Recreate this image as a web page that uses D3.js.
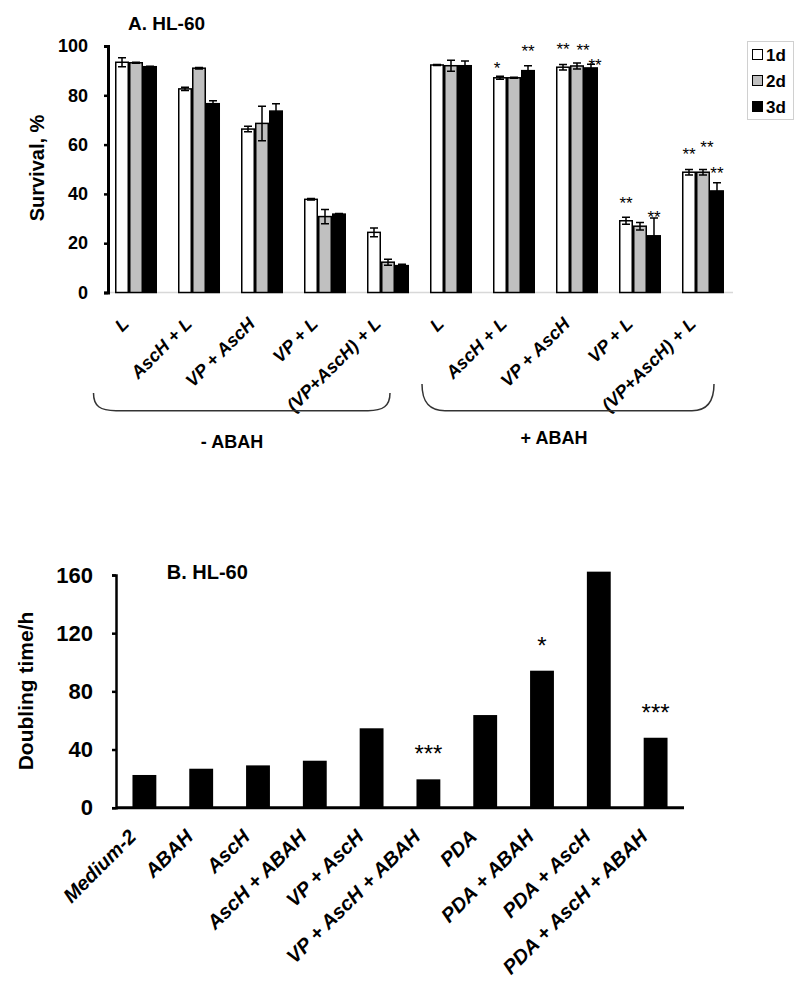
<!DOCTYPE html>
<html><head><meta charset="utf-8">
<script src="https://cdn.jsdelivr.net/npm/d3@7"></script>
<style>
body{margin:0;background:#fff}
svg{display:block}
text{font-family:Arial,"Liberation Sans",sans-serif}
</style>
</head><body>
<svg id="c" width="800" height="995"></svg>
<script>
// ---------- Panel A data ----------
const groupsA = ["L","AscH + L","VP + AscH","VP + L","(VP+AscH) + L","L","AscH + L","VP + AscH","VP + L","(VP+AscH) + L"];
const seriesA = ["1d","2d","3d"];
const colorsA = ["#ffffff","#c0c0c0","#000000"];
const val1d = [93.4,82.6,66.3,37.8,24.4,92.3,87.1,91.4,29.1,48.8];
const err1d = [1.8,0.7,1.1,0.3,1.8,0.2,0.6,1.1,1.4,1.1];
const val2d = [93.2,91.0,68.6,30.8,12.3,92.0,87.1,91.9,26.9,48.8];
const err2d = [0.2,0.3,7.0,2.9,1.2,2.2,0.2,1.2,1.5,1.1];
const val3d = [91.6,76.6,73.6,31.8,10.9,92.0,90.0,91.1,23.0,41.2];
const err3d = [0.2,1.2,3.0,0.2,0.6,1.9,2.0,1.5,7.2,3.3];
const ticksA = [0,20,40,60,80,100];
const bracketLabelsA = ["- ABAH","+ ABAH"];
// significance marks: [group index, series index, text, level (survival %)]
const starsA = [
  [6,0,"*",92.3],[6,2,"**",99.3],
  [7,0,"**",100.4],[7,1,"**",99.7],[7,2,"**",93.6],
  [8,0,"**",37.9],[8,2,"**",32.1],
  [9,0,"**",57.8],[9,1,"**",60.5],[9,2,"**",49.7]
];
const starNudgeA = [-3,0,0,6,4,0,0,0,4,0];

// ---------- Panel B data ----------
const categoriesB = ["Medium-2","ABAH","AscH","AscH + ABAH","VP + AscH","VP + AscH + ABAH","PDA","PDA + ABAH","PDA + AscH","PDA + AscH + ABAH"];
const valuesB = [22.5,26.8,29.1,32.3,54.6,19.5,63.7,94.2,162.3,48.1];
const ticksB = [0,40,80,120,160];
// [bar index, text, level (h)]
const starsB = [[5,"***",40.1],[7,"*",114.6],[9,"***",68.8]];

const svg = d3.select("#c");
const vals = [val1d,val2d,val3d], errs = [err1d,err2d,err3d];

// ================= Panel A =================
const xA = d3.scaleBand().domain(d3.range(groupsA.length)).range([106,733]).paddingInner(1/3).paddingOuter(0.143);
const xS = d3.scaleBand().domain(d3.range(seriesA.length)).range([0,xA.bandwidth()]);
const yA = d3.scaleLinear().domain([0,100]).range([292.5,46]);

svg.append("line").attr("x1",108).attr("x2",733).attr("y1",yA(0)).attr("y2",yA(0))
  .attr("stroke","#d8d8d8").attr("stroke-width",1.5);

const barsA = [];
groupsA.forEach((g,gi)=>seriesA.forEach((s,si)=>barsA.push({gi,si,v:vals[si][gi],e:errs[si][gi]})));

svg.append("g").selectAll("rect").data(barsA).join("rect")
  .attr("x",d=>xA(d.gi)+xS(d.si)+0.75)
  .attr("width",xS.bandwidth()-1.5)
  .attr("y",d=>yA(d.v))
  .attr("height",d=>yA(0)-yA(d.v))
  .attr("fill",d=>colorsA[d.si])
  .attr("stroke","#000").attr("stroke-width",1.5);

const eg = svg.append("g").attr("stroke","#000").attr("stroke-width",1.5).attr("fill","none");
barsA.forEach(d=>{
  const cx = xA(d.gi)+xS(d.si)+xS.bandwidth()/2;
  const y1 = yA(d.v+d.e), y2 = yA(d.v-d.e);
  eg.append("path").attr("d",`M${cx},${y1}V${y2}M${cx-4},${y1}H${cx+4}M${cx-4},${y2}H${cx+4}`);
});

svg.append("g").selectAll("text").data(starsA).join("text")
  .attr("x",(d,i)=>xA(d[0])+xS(d[1])+xS.bandwidth()/2+starNudgeA[i])
  .attr("y",d=>yA(d[3])+9.5)
  .attr("text-anchor","middle").attr("font-size",17)
  .text(d=>d[2]);

const axA = svg.append("g").attr("transform","translate(108,0)")
  .call(d3.axisLeft(yA).tickValues(ticksA).tickSize(4).tickSizeOuter(4).tickPadding(16));
axA.select(".domain").attr("stroke-width",3);
axA.selectAll(".tick line").attr("stroke-width",2.5);
axA.selectAll("text").attr("font-size",18).attr("font-weight","bold").attr("font-family","Arial,'Liberation Sans',sans-serif").attr("fill","#000");

svg.append("text").attr("x",128).attr("y",30).attr("font-size",19).attr("font-weight","bold").text("A. HL-60");
svg.append("text").attr("transform","translate(44,168) rotate(-90)").attr("text-anchor","middle")
  .attr("font-size",20).attr("font-weight","bold").text("Survival, %");

svg.append("g").selectAll("text").data(groupsA).join("text")
  .attr("transform",(d,i)=>`translate(${xA(i)+xA.bandwidth()/2-6},325) rotate(-45)`)
  .attr("text-anchor","end").attr("font-size",18).attr("font-weight","bold").attr("font-style","italic")
  .text(d=>d);

svg.append("path").attr("d","M93.5,393 C93.5,406 100,410.7 116,410.7 H368 C383,410.7 390,406 390,393")
  .attr("fill","none").attr("stroke","#333").attr("stroke-width",1.5);
svg.append("path").attr("d","M422,384 C422,402 429,410.7 445,410.7 H692 C707,410.7 714,402 714,384")
  .attr("fill","none").attr("stroke","#333").attr("stroke-width",1.5);
svg.append("text").attr("x",232).attr("y",448).attr("text-anchor","middle").attr("font-size",18).attr("font-weight","bold").text(bracketLabelsA[0]);
svg.append("text").attr("x",554).attr("y",444).attr("text-anchor","middle").attr("font-size",18).attr("font-weight","bold").text(bracketLabelsA[1]);

const lg = svg.append("g");
lg.append("rect").attr("x",747.5).attr("y",41.5).attr("width",46).attr("height",78).attr("fill","#fff").attr("stroke","#d0d0d0");
seriesA.forEach((s,i)=>{
  const cy = 54.5 + i*26;
  lg.append("rect").attr("x",752.5).attr("y",cy-5).attr("width",10).attr("height",10).attr("fill",colorsA[i]).attr("stroke","#000").attr("stroke-width",1);
  lg.append("text").attr("x",766).attr("y",cy+6.5).attr("font-size",17).attr("font-weight","bold").text(s);
});

// ================= Panel B =================
const xB = d3.scaleBand().domain(d3.range(categoriesB.length)).range([116,684]).paddingInner(0.58).paddingOuter(0.29);
const yB = d3.scaleLinear().domain([0,160]).range([807.7,575]);

svg.append("g").selectAll("rect").data(valuesB).join("rect")
  .attr("x",(d,i)=>xB(i)).attr("width",xB.bandwidth())
  .attr("y",d=>yB(d)).attr("height",d=>yB(0)-yB(d)).attr("fill","#000");

svg.append("g").selectAll("text").data(starsB).join("text")
  .attr("x",d=>xB(d[0])+xB.bandwidth()/2).attr("y",d=>yB(d[2])+13)
  .attr("text-anchor","middle").attr("font-size",24).text(d=>d[1]);

svg.append("line").attr("x1",116).attr("x2",684).attr("y1",yB(0)).attr("y2",yB(0)).attr("stroke","#000").attr("stroke-width",3);

const axB = svg.append("g").attr("transform","translate(116,0)")
  .call(d3.axisLeft(yB).tickValues(ticksB).tickSize(4).tickSizeOuter(4).tickPadding(19));
axB.select(".domain").attr("stroke-width",2.5);
axB.selectAll(".tick line").attr("stroke-width",2.5);
axB.selectAll("text").attr("font-size",22).attr("font-weight","bold").attr("font-family","Arial,'Liberation Sans',sans-serif").attr("fill","#000");

svg.append("text").attr("x",166.7).attr("y",579).attr("font-size",20).attr("font-weight","bold").text("B. HL-60");
svg.append("text").attr("transform","translate(32.5,691) rotate(-90)").attr("text-anchor","middle")
  .attr("font-size",21).attr("font-weight","bold").text("Doubling time/h");

svg.append("g").selectAll("text").data(categoriesB).join("text")
  .attr("transform",(d,i)=>`translate(${xB(i)+xB.bandwidth()/2-7},838) rotate(-45)`)
  .attr("text-anchor","end").attr("font-size",20).attr("font-weight","bold").attr("font-style","italic")
  .text(d=>d);
</script>
</body></html>
